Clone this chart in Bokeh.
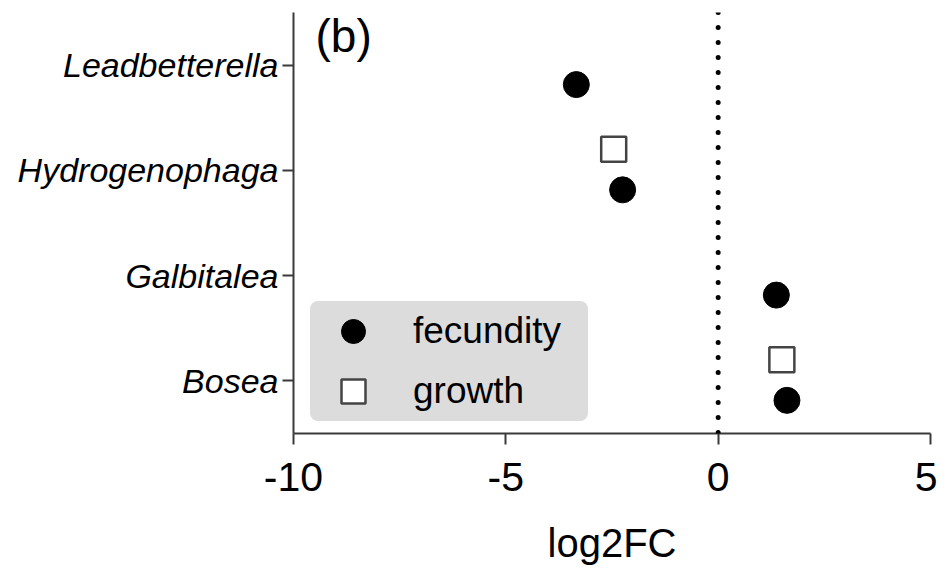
from bokeh.plotting import figure
from bokeh.models import FactorRange, Range1d, FixedTicker, Span, Legend, LegendItem, Label, ColumnDataSource
from bokeh.transform import dodge
from bokeh.embed import file_html
from bokeh.resources import INLINE

# data
genera = ["Bosea", "Galbitalea", "Hydrogenophaga", "Leadbetterella"]  # bottom -> top
fec_genus = ["Leadbetterella", "Hydrogenophaga", "Galbitalea", "Bosea"]
fec_log2fc = [-3.34, -2.25, 1.37, 1.62]
gro_genus = ["Hydrogenophaga", "Bosea"]
gro_log2fc = [-2.46, 1.50]
x_ticks = [-10, -5, 0, 5]
x_tick_labels = ["-10", "-5", "0", "5"]

FONT = "Liberation Sans"
AX = "#3a3a3a"

p = figure(width=937, height=567, output_backend="svg", toolbar_location=None,
           y_range=FactorRange(factors=genera, range_padding=0),
           x_range=Range1d(-10, 5),
           min_border_left=293, min_border_right=7, min_border_top=12, min_border_bottom=133)
p.outline_line_color = None
p.xgrid.visible = False
p.ygrid.visible = False
p.background_fill_color = "white"

# zero reference line (dotted)
p.add_layout(Span(location=0, dimension="height", line_color="black", line_width=5,
                  line_dash="0 15", line_cap="round"))

src_f = ColumnDataSource(dict(g=fec_genus, v=fec_log2fc))
src_g = ColumnDataSource(dict(g=gro_genus, v=gro_log2fc))

rf = p.scatter(x="v", y=dodge("g", -0.185, range=p.y_range), source=src_f, marker="circle",
               size=26, fill_color="black", line_color="black")
rg = p.scatter(x="v", y=dodge("g", 0.2, range=p.y_range), source=src_g, marker="square",
               size=25, fill_color="white", line_color="#444444", line_width=2.5)

# axes
xa = p.xaxis[0]
xa.ticker = FixedTicker(ticks=x_ticks)
xa.major_label_overrides = {t: s for t, s in zip(x_ticks, x_tick_labels)}
xa.minor_tick_line_color = None
xa.major_tick_in = 0
xa.major_tick_out = 11
xa.axis_line_width = 2
xa.major_tick_line_width = 2
xa.axis_line_color = AX
xa.major_tick_line_color = AX
xa.major_label_text_font = FONT
xa.major_label_text_font_size = "41px"
xa.major_label_text_color = "black"
xa.major_label_standoff = 18
xa.axis_label = "log2FC"
xa.axis_label_text_font = FONT
xa.axis_label_text_font_size = "40px"
xa.axis_label_text_font_style = "normal"
xa.axis_label_text_color = "black"
xa.axis_label_standoff = 27

ya = p.yaxis[0]
ya.major_tick_in = 0
ya.major_tick_out = 11
ya.axis_line_width = 2
ya.major_tick_line_width = 2
ya.axis_line_color = AX
ya.major_tick_line_color = AX
ya.major_label_text_font = FONT
ya.major_label_text_font_size = "34px"
ya.major_label_text_font_style = "italic"
ya.major_label_text_color = "black"
ya.major_label_standoff = 4

# panel label
p.add_layout(Label(x=22, y=372, x_units="screen", y_units="screen", text="(b)",
                   text_font=FONT, text_font_size="46px", text_color="black"))

legend = Legend(items=[LegendItem(label="fecundity", renderers=[rf]),
                       LegendItem(label="growth", renderers=[rg])],
                location=(17, 12), padding=0, spacing=0,
                glyph_width=86, glyph_height=60, label_standoff=17,
                label_width=175, label_height=60,
                label_text_font=FONT, label_text_font_size="37px", label_text_color="black",
                background_fill_color="#dcdcdc", background_fill_alpha=1.0,
                border_line_color=None)
if "border_radius" in Legend.properties():
    legend.border_radius = 8
p.add_layout(legend)

open("out.html", "w").write(file_html(p, INLINE))
